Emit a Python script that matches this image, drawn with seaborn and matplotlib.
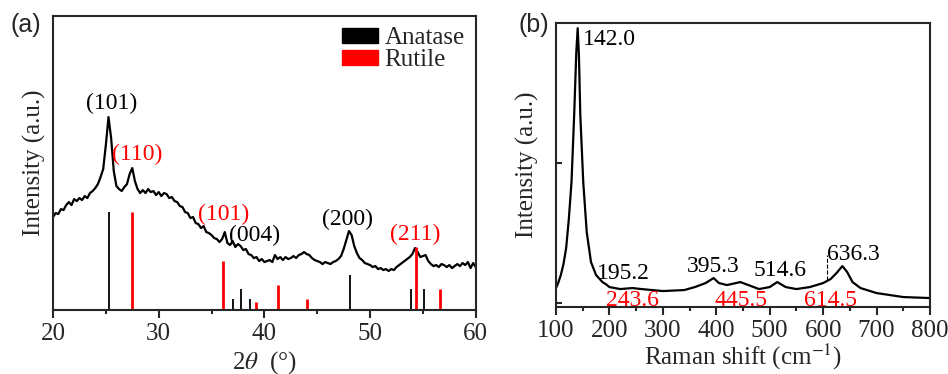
import matplotlib
matplotlib.use("Agg")
import matplotlib.pyplot as plt
import seaborn as sns
from matplotlib.patches import Patch

# ---------------- data ----------------
xrd_2theta = [20.00, 20.25, 20.50, 20.75, 21.00, 21.25, 21.50, 21.75, 22.00, 22.25, 22.50, 22.75,
              23.00, 23.25, 23.50, 23.75, 24.00, 24.25, 24.50, 24.75, 25.00, 25.25, 25.50, 25.75,
              26.00, 26.25, 26.50, 26.75, 27.00, 27.25, 27.50, 27.75, 28.00, 28.25, 28.50, 28.75,
              29.00, 29.25, 29.50, 29.75, 30.00, 30.25, 30.50, 30.75, 31.00, 31.25, 31.50, 31.75,
              32.00, 32.25, 32.50, 32.75, 33.00, 33.25, 33.50, 33.75, 34.00, 34.25, 34.50, 34.75,
              35.00, 35.25, 35.50, 35.75, 36.00, 36.25, 36.50, 36.75, 37.00, 37.25, 37.50, 37.75,
              38.00, 38.25, 38.50, 38.75, 39.00, 39.25, 39.50, 39.75, 40.00, 40.25, 40.50, 40.75,
              41.00, 41.25, 41.50, 41.75, 42.00, 42.25, 42.50, 42.75, 43.00, 43.25, 43.50, 43.75,
              44.00, 44.25, 44.50, 44.75, 45.00, 45.25, 45.50, 45.75, 46.00, 46.25, 46.50, 46.75,
              47.00, 47.25, 47.50, 47.75, 48.00, 48.25, 48.50, 48.75, 49.00, 49.25, 49.50, 49.75,
              50.00, 50.25, 50.50, 50.75, 51.00, 51.25, 51.50, 51.75, 52.00, 52.25, 52.50, 52.75,
              53.00, 53.25, 53.50, 53.75, 54.00, 54.25, 54.50, 54.75, 55.00, 55.25, 55.50, 55.75,
              56.00, 56.25, 56.50, 56.75, 57.00, 57.25, 57.50, 57.75, 58.00, 58.25, 58.50, 58.75,
              59.00, 59.25, 59.50, 59.75, 60.00]
xrd_intensity = [93, 97, 96, 101, 100, 105, 108, 105, 111, 109, 112, 110,
                 114, 112, 117, 119, 122, 126, 133, 141, 165, 193, 172, 139,
                 124, 121, 119, 123, 126, 136, 142, 129, 121, 117, 120, 117,
                 121, 118, 119, 115, 118, 114, 117, 116, 112, 113, 109, 108,
                 104, 103, 98, 97, 92, 93, 87, 86, 82, 84, 78, 77,
                 75, 72, 71, 68, 71, 78, 67, 65, 69, 63, 66, 64,
                 60, 61, 56, 55, 52, 53, 49, 51, 48, 49, 50, 48,
                 55, 51, 53, 50, 53, 51, 52, 54, 52, 55, 56, 58,
                 56, 55, 52, 50, 49, 48, 46, 48, 47, 46, 48, 49,
                 51, 54, 61, 70, 79, 75, 64, 57, 52, 50, 47, 46,
                 45, 43, 44, 41, 42, 40, 41, 39, 41, 40, 43, 45,
                 47, 49, 51, 53, 56, 62, 58, 53, 54, 55, 49, 46,
                 44, 45, 43, 46, 45, 43, 45, 42, 44, 46, 44, 47,
                 45, 48, 42, 47, 43]

anatase_pos = [25.3, 37.0, 37.8, 38.6, 48.1, 53.9, 55.1]
anatase_height = [98, 11, 21, 11, 35, 21, 21]
rutile_pos = [27.45, 36.1, 39.2, 41.25, 44.05, 54.35, 56.6]
rutile_height = [98, 49, 8, 25, 11, 63, 21]

xrd_labels = ["(101)", "(110)", "(101)", "(004)", "(200)", "(211)"]
xrd_label_x = [25.5, 28.0, 36.1, 39.1, 47.9, 54.3]
xrd_label_y = [207, 156, 96, 75, 91, 76]
xrd_label_color = ["black", "red", "red", "black", "black", "red"]

raman_shift = [100, 104, 109, 114, 119, 124, 129, 134, 138, 140.6, 143, 145.5, 151, 157.5, 165.5,
               175, 187, 193, 200, 220, 243, 260, 300, 340, 360, 380, 395, 405, 420, 445, 460,
               480, 500, 514, 530, 550, 575, 600, 614, 625, 636, 645, 655, 670, 700, 750, 800]
raman_intensity = [19, 24, 32, 43, 59, 88, 125, 192, 255, 279, 250, 192, 125, 75, 45,
                   32, 25, 23, 20, 18, 19, 18, 16, 17, 20, 24, 29, 24, 22, 25, 22,
                   18, 20, 25, 20, 18, 20, 24, 28, 34, 41, 35, 25, 19, 14, 10, 9]

raman_labels_black = ["142.0", "195.2", "395.3", "514.6", "636.3"]
raman_black_x = [150.5, 176.8, 345, 469, 607.5]
raman_black_y = [268, 34, 41, 37, 53]
raman_labels_red = ["243.6", "445.5", "614.5"]
raman_red_x = [243.6, 445.5, 614.5]
raman_red_y = [7, 7, 7]

# ---------------- style ----------------
sns.set_style("ticks")
plt.rcParams["font.family"] = ["Liberation Serif", "DejaVu Serif"]
plt.rcParams["mathtext.fontset"] = "stix"
plt.rcParams["axes.linewidth"] = 1.5

fig = plt.figure(figsize=(9.48, 3.74), dpi=100)
axa = fig.add_axes([0.0559, 0.171, 0.446, 0.786])
axb = fig.add_axes([0.5865, 0.179, 0.3945, 0.759])

# ---------------- panel (a) ----------------
sns.lineplot(x=xrd_2theta, y=xrd_intensity, ax=axa, color="black", lw=1.6, estimator=None)
axa.vlines(anatase_pos, 0, anatase_height, color="black", lw=1.3)
axa.vlines(rutile_pos, 0, rutile_height, color="red", lw=2.0)
for t, x, y, c in zip(xrd_labels, xrd_label_x, xrd_label_y, xrd_label_color):
    axa.text(x, y, t, color=c, fontsize=17, ha="center", va="center")
axa.set_xlim(20, 60)
axa.set_ylim(0, 294)
axa.set_xticks([20, 30, 40, 50, 60])
axa.set_xticks([25, 35, 45, 55], minor=True)
axa.set_yticks([])
axa.tick_params(axis="x", which="major", direction="out", length=6, width=1.5, labelsize=18, pad=3)
axa.tick_params(axis="x", which="minor", direction="out", length=3, width=1.5)
axa.set_xlabel(r"2$\theta$  (°)", fontsize=18, labelpad=3)
axa.set_ylabel("Intensity (a.u.)", fontsize=18, labelpad=5)
handles = [Patch(facecolor="black", edgecolor="black"), Patch(facecolor="red", edgecolor="red")]
axa.legend(handles, ["Anatase", "Rutile"], loc="upper right", frameon=False, fontsize=18,
           handlelength=1.45, handleheight=0.6, labelspacing=0.0, handletextpad=0.25,
           borderaxespad=0.2, borderpad=0.25)
for s in axa.spines.values():
    s.set_linewidth(1.5)

# ---------------- panel (b) ----------------
sns.lineplot(x=raman_shift, y=raman_intensity, ax=axb, color="black", lw=1.6, estimator=None)
for t, x, y in zip(raman_labels_black, raman_black_x, raman_black_y):
    axb.text(x, y, t, color="black", fontsize=17, ha="left", va="center")
for t, x, y in zip(raman_labels_red, raman_red_x, raman_red_y):
    axb.text(x, y, t, color="red", fontsize=17, ha="center", va="center")
axb.vlines([608], 27, 52, color="black", lw=0.8, linestyles="--")
axb.set_xlim(100, 800)
axb.set_ylim(0, 284)
axb.set_xticks([100, 200, 300, 400, 500, 600, 700, 800])
axb.set_xticks([150, 250, 350, 450, 550, 650, 750], minor=True)
axb.set_yticks([4, 144])
axb.set_yticklabels([])
axb.tick_params(axis="x", which="major", direction="out", length=6, width=1.5, labelsize=18, pad=3)
axb.tick_params(axis="x", which="minor", direction="out", length=3, width=1.5)
axb.tick_params(axis="y", direction="in", length=4, width=1.5)
axb.set_xlabel(r"Raman shift (cm$^{-1}$)", fontsize=18, labelpad=0)
axb.set_ylabel("Intensity (a.u.)", fontsize=18, labelpad=9)
for s in axb.spines.values():
    s.set_linewidth(1.5)

fig.text(10 / 948, 1 - 25 / 374, "(a)", fontsize=18, family=["Liberation Sans", "DejaVu Sans"],
         ha="left", va="center")
fig.text(518 / 948, 1 - 25 / 374, "(b)", fontsize=18, family=["Liberation Sans", "DejaVu Sans"],
         ha="left", va="center")

fig.savefig("out.png", dpi=100)
